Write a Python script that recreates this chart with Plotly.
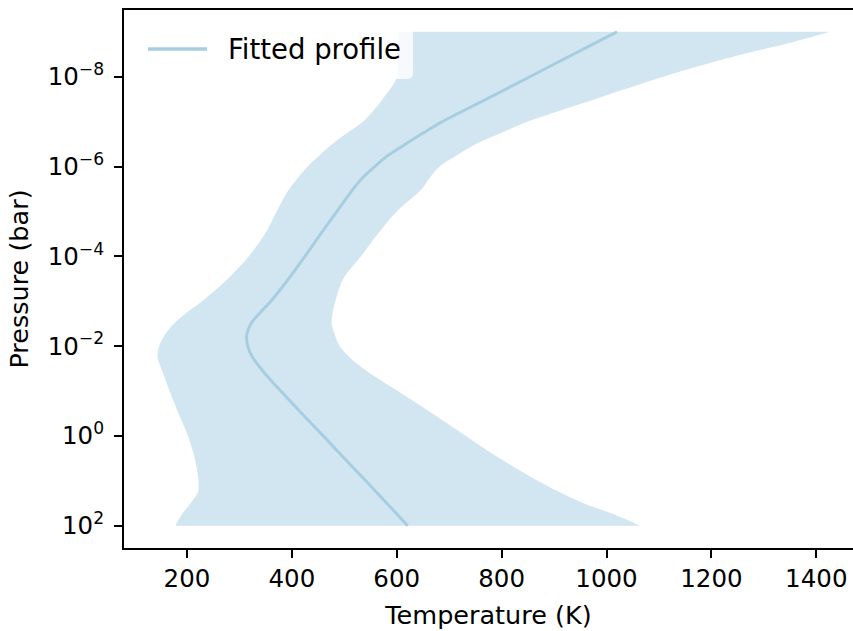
import numpy as np
import plotly.graph_objects as go

# log10 of pressure levels (bar)
log10_pressure = [-9.0, -8.75, -8.5, -8.25, -8.0, -7.5, -7.0, -6.75, -6.5, -6.25, -6.0, -5.75,
                  -5.5, -5.0, -4.5, -4.0, -3.5, -3.0, -2.75, -2.5, -2.25, -2.0, -1.75, -1.5,
                  -1.25, -1.0, -0.5, 0.0, 0.5, 1.0, 1.25, 1.5, 1.75, 2.0]
# fitted (median) temperature profile (K)
t_median = [1020, 978, 937, 895, 854, 771, 687, 651, 617, 584, 558, 535,
            517, 486, 455, 425, 394, 360, 340, 322, 314, 316, 325, 341,
            359, 379, 419, 460, 500, 541, 561, 581, 601, 621]
# lower bound of the uncertainty band (K)
t_low = [604, 603, 603, 602, 601, 573, 536, 506, 477, 453, 430, 412,
         395, 371, 349, 318, 278, 229, 200, 175, 158, 147, 144, 151,
         159, 167, 184, 202, 215, 222, 221, 207, 190, 178]
# upper bound of the uncertainty band (K)
t_high = [1426, 1349, 1259, 1180, 1108, 978, 850, 800, 751, 715, 682, 663,
          648, 600, 564, 532, 498, 483, 478, 476, 482, 491, 510, 536,
          568, 602, 668, 732, 796, 869, 910, 956, 1015, 1064]

x_ticks = [200, 400, 600, 800, 1000, 1200, 1400]
y_tick_exps = [-8, -6, -4, -2, 0, 2]
legend_label = "Fitted profile"

pressure = 10.0 ** np.array(log10_pressure)
band_color = "rgba(166,206,227,0.5)"
line_color = "#a6cee3"
smooth = 0.9

fig = go.Figure()
fig.add_trace(go.Scatter(
    x=t_low, y=pressure, mode="lines",
    line=dict(width=0, shape="spline", smoothing=smooth, color=band_color),
    showlegend=False, hoverinfo="skip"))
fig.add_trace(go.Scatter(
    x=t_high, y=pressure, mode="lines", fill="tonextx", fillcolor=band_color,
    line=dict(width=0, shape="spline", smoothing=smooth, color=band_color),
    showlegend=False, hoverinfo="skip"))
fig.add_trace(go.Scatter(
    x=t_median, y=pressure, mode="lines", name=legend_label,
    line=dict(color=line_color, width=3, shape="spline", smoothing=smooth),
    showlegend=False))

# plot-area geometry (pixels) for the hand-drawn legend box
L, T, W, H = 124, 10, 729, 538
def px(x):
    return (x - L) / W
def py(y):
    return 1 - (y - T) / H

# legend box with rounded corners
bx0, bx1, by0, by1, r = 134, 413, 19, 79, 6
path = (f"M{px(bx0 + r)},{py(by0)} L{px(bx1 - r)},{py(by0)} "
        f"Q{px(bx1)},{py(by0)} {px(bx1)},{py(by0 + r)} "
        f"L{px(bx1)},{py(by1 - r)} Q{px(bx1)},{py(by1)} {px(bx1 - r)},{py(by1)} "
        f"L{px(bx0 + r)},{py(by1)} Q{px(bx0)},{py(by1)} {px(bx0)},{py(by1 - r)} "
        f"L{px(bx0)},{py(by0 + r)} Q{px(bx0)},{py(by0)} {px(bx0 + r)},{py(by0)} Z")
fig.add_shape(type="path", path=path, xref="paper", yref="paper",
              fillcolor="rgba(255,255,255,0.8)", line=dict(width=0), layer="above")
fig.add_shape(type="line", xref="paper", yref="paper",
              x0=px(148), x1=px(207), y0=py(49), y1=py(49),
              line=dict(color=line_color, width=3.5), layer="above")
fig.add_annotation(x=px(226), y=py(49), xref="paper", yref="paper",
                   text=legend_label, showarrow=False, xanchor="left", yanchor="middle",
                   font=dict(size=27.5, color="black"))

font = "DejaVu Sans, sans-serif"
fig.update_layout(
    width=853, height=631,
    margin=dict(l=124, r=0, t=10, b=83),
    paper_bgcolor="white", plot_bgcolor="white",
    font=dict(family=font, color="black", size=24),
    showlegend=False,
)
fig.update_xaxes(
    range=[80, 1470], tickvals=x_ticks, ticktext=[str(v) for v in x_ticks],
    showgrid=False, zeroline=False, showline=True, linecolor="black", linewidth=2,
    mirror=True, ticks="outside", ticklen=8, tickwidth=1.5, tickcolor="black",
    tickfont=dict(size=24.5),
    title=dict(text="Temperature (K)", font=dict(size=25.5), standoff=14))
fig.update_yaxes(
    type="log", range=[2.497, -9.486],
    tickvals=[10.0 ** e for e in y_tick_exps],
    ticktext=["10<sup>" + (str(e).replace("-", "\u2212")) + "</sup>" for e in y_tick_exps],
    showgrid=False, zeroline=False, showline=True, linecolor="black", linewidth=2,
    ticks="outside", ticklen=8, tickwidth=1.5, tickcolor="black",
    tickfont=dict(size=24.5), ticklabelstandoff=5,
    title=dict(text="Pressure (bar)", font=dict(size=25.5), standoff=12))

fig.write_html("out.html")
